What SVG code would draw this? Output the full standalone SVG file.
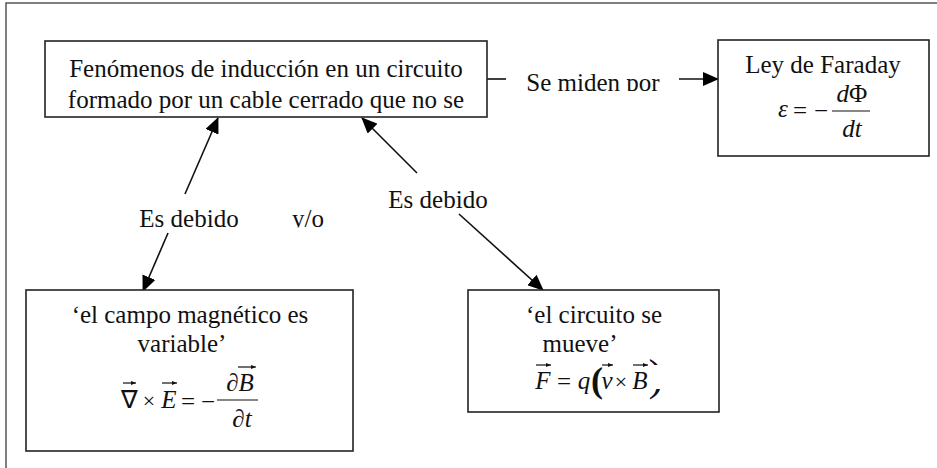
<svg xmlns="http://www.w3.org/2000/svg" width="937" height="468" viewBox="0 0 937 468">
<style>
text{font-family:'Liberation Serif','Times New Roman',serif;font-size:25px;fill:#111}
.c{text-anchor:middle}
.i{font-style:italic}
.box{fill:#fff;stroke:#222;stroke-width:1.6}
.ln{fill:none;stroke:#111;stroke-width:1.6}
.thin{fill:none;stroke:#111;stroke-width:1.2}
.frame{fill:none;stroke:#555;stroke-width:1.5}
</style>
<defs>
<marker id="ah" markerUnits="userSpaceOnUse" markerWidth="16" markerHeight="14" refX="15" refY="7" orient="auto">
<path d="M0,0 L16,7 L0,14 Z" fill="#000"/>
</marker>
<marker id="va" markerUnits="userSpaceOnUse" markerWidth="5" markerHeight="4" refX="5" refY="2" orient="auto">
<path d="M0,0 L5,2 L0,4 Z" fill="#111"/>
</marker>
<clipPath id="clipSe"><rect x="500" y="60" width="180" height="31"/></clipPath>
<clipPath id="clipL"><rect x="100" y="190" width="250" height="37.5"/></clipPath>
<clipPath id="clipR"><rect x="370" y="170" width="140" height="38"/></clipPath>
<clipPath id="clipPar"><rect x="640" y="340" width="40" height="25"/><rect x="640" y="389" width="40" height="20"/></clipPath>
</defs>

<path class="frame" d="M6,468 L6,3 L937,3"/>

<g id="connectors">
<path class="ln" d="M487,79 L506,79"/>
<path class="ln" d="M679,79 L718,79" marker-end="url(#ah)"/>
<path class="ln" d="M185,194 L218,118" marker-end="url(#ah)"/>
<path class="ln" d="M168,233 L143,291" marker-end="url(#ah)"/>
<path class="ln" d="M417,173 L362,118" marker-end="url(#ah)"/>
<path class="ln" d="M459,214 L543,290" marker-end="url(#ah)"/>
<text x="593" y="91" class="c" clip-path="url(#clipSe)">Se miden por</text>
<g clip-path="url(#clipL)">
<text x="189" y="227" class="c">Es debido</text>
<text x="308" y="227" class="c">y/o</text>
</g>
<text x="438" y="208" class="c" clip-path="url(#clipR)">Es debido</text>
</g>

<g id="node-fenomenos">
<rect class="box" x="45" y="41" width="442" height="76"/>
<text x="266" y="77" class="c">Fenómenos de inducción en un circuito</text>
<text x="266" y="108" class="c">formado por un cable cerrado que no se</text>
</g>

<g id="node-faraday">
<rect class="box" x="718" y="40" width="211" height="116"/>
<text x="823" y="73" class="c">Ley de Faraday</text>
<text x="783" y="117" class="c i">ε</text>
<text x="800" y="119" class="c">=</text>
<text x="821" y="119" class="c">−</text>
<line class="thin" x1="832" y1="111" x2="870" y2="111"/>
<text x="852" y="102" class="c"><tspan class="i">d</tspan>Φ</text>
<text x="852" y="137" class="c i">dt</text>
</g>

<g id="node-campo">
<rect class="box" x="26" y="290" width="327" height="161"/>
<text x="190" y="323" class="c">‘el campo magnético es</text>
<text x="182" y="352" class="c">variable’</text>
<text x="129" y="408" class="c">∇</text>
<line class="thin" x1="123" y1="383" x2="136" y2="383" marker-end="url(#va)"/>
<text x="149" y="408" class="c" style="font-size:22px">×</text>
<text x="169" y="408" class="c i">E</text>
<line class="thin" x1="162" y1="383" x2="177" y2="383" marker-end="url(#va)"/>
<text x="188" y="410" class="c">=</text>
<text x="208" y="410" class="c">−</text>
<line class="thin" x1="217" y1="400" x2="258" y2="400"/>
<text x="240" y="391" class="c">∂<tspan class="i">B</tspan></text>
<line class="thin" x1="238" y1="367" x2="256" y2="367" marker-end="url(#va)"/>
<text x="242" y="427" class="c">∂<tspan class="i">t</tspan></text>
</g>

<g id="node-circuito">
<rect class="box" x="468" y="290" width="251" height="122"/>
<text x="594" y="323" class="c">‘el circuito se</text>
<text x="580" y="352" class="c">mueve’</text>
<text x="543" y="389" class="c i">F</text>
<line class="thin" x1="536" y1="365" x2="551" y2="365" marker-end="url(#va)"/>
<text x="564" y="390" class="c">=</text>
<text x="584" y="389" class="c i">q</text>
<text x="597" y="392" class="c" style="font-size:36px;font-weight:bold">(</text>
<text x="607" y="389" class="c i">v</text>
<line class="thin" x1="602" y1="365" x2="613" y2="365" marker-end="url(#va)"/>
<text x="621" y="389" class="c" style="font-size:22px">×</text>
<text x="640" y="389" class="c i">B</text>
<line class="thin" x1="633" y1="365" x2="648" y2="365" marker-end="url(#va)"/>
<text x="656" y="390" class="c" style="font-size:45px" clip-path="url(#clipPar)">)</text>
</g>
</svg>
